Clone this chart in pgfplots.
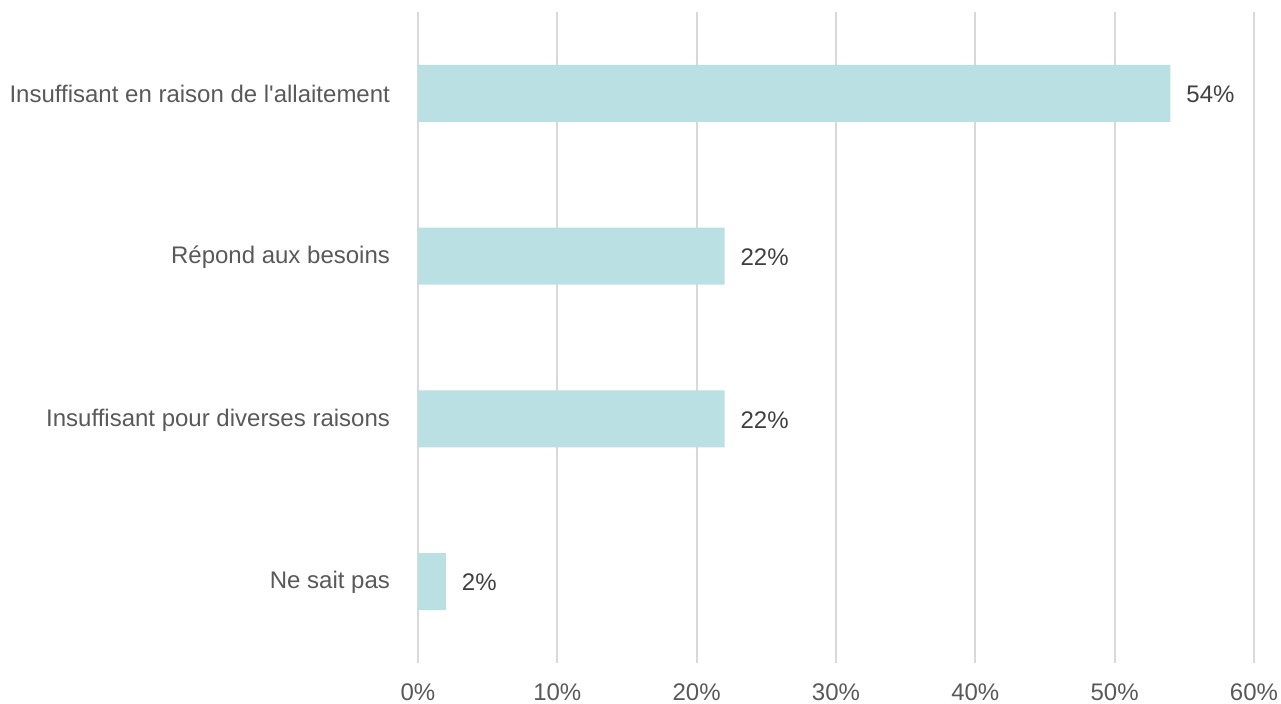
\documentclass[border=0pt]{standalone}
\usepackage{pgfplots}
\pgfplotsset{compat=1.18}
\usepackage{fontspec}
\setmainfont{Liberation Sans}
\definecolor{barc}{HTML}{BAE0E3}
\definecolor{gridc}{HTML}{D9D9D9}
\definecolor{labc}{HTML}{595959}
\definecolor{datc}{HTML}{404040}
\begin{document}
\begin{tikzpicture}
\begin{axis}[
  scale only axis,
  width=418pt, height=325.5pt,
  xbar, bar width=28.5pt,
  xmin=0, xmax=60,
  ymin=-0.5, ymax=3.5,
  y dir=reverse,
  xtick={0,10,20,30,40,50,60},
  xticklabel={\pgfmathprintnumber{\tick}\%},
  ytick={0,1,2,3},
  yticklabels={Insuffisant en raison de l\textquotesingle allaitement,Répond aux besoins,Insuffisant pour diverses raisons,Ne sait pas},
  /pgf/number format/assume math mode=true,
  xmajorgrids,
  major grid style={gridc, line width=0.9pt},
  axis line style={draw=none},
  major tick length=0pt,
  tick label style={font=\fontsize{12}{14}\selectfont, text=labc},
  xticklabel style={yshift=-7pt},
  yticklabel style={xshift=-10.5pt, yshift=-0.5pt},
  nodes near coords={\pgfmathprintnumber{\pgfplotspointmeta}\%},
  point meta=x,
  nodes near coords style={font=\fontsize{12}{14}\selectfont, text=datc, xshift=4.5pt, yshift=-0.5pt},
]
\addplot[fill=barc, draw=none] coordinates {(54,0) (22,1) (22,2) (2,3)};
\end{axis}
\pgfresetboundingbox
\path (-209pt,-20pt) rectangle (431.5pt,331.5pt);
\end{tikzpicture}
\end{document}
